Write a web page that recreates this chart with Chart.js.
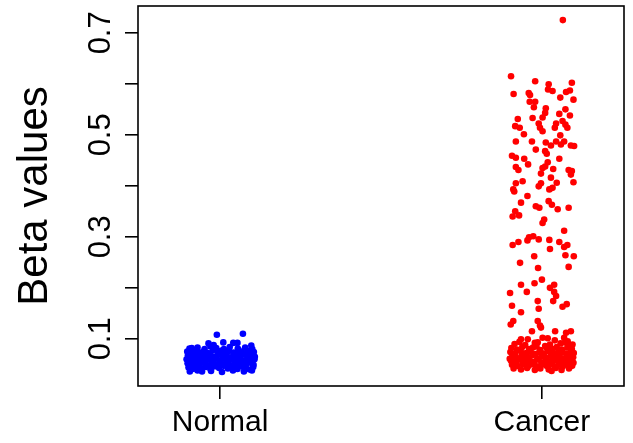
<!DOCTYPE html>
<html lang="en">
<head>
    <meta charset="UTF-8">
    <title>Beta values</title>
    <style>
        body { margin: 0; padding: 0; background: #ffffff; }
        .chart-box { width: 633px; height: 443px; }
    </style>
    <script src="https://cdn.jsdelivr.net/npm/chart.js"></script>
</head>
<body>
    <div class="chart-box">
        <canvas id="stripChart" width="633" height="443"></canvas>
    </div>

    <script>
    // groups on the x axis (position 1 and 2)
    const groups = ["Normal", "Cancer"];
    const yTicks = [0.1, 0.2, 0.3, 0.4, 0.5, 0.6, 0.7];
    const yTickLabels = [0.1, 0.3, 0.5, 0.7];

    // Normal samples: horizontal jitter and beta value
    const normalJitter = [
        0.071, -0.010, 0.010, -0.036, 0.041, 0.054, -0.088, 0.097, -0.020,
        -0.095, -0.070, -0.048, -0.030, -0.012, 0.012, 0.030, 0.055, 0.078, 0.100,
        -0.102, -0.088, -0.075, -0.061, -0.050, -0.038, -0.022, -0.008, 0.005, 0.018, 0.028, 0.042, 0.058, 0.068, 0.082, 0.092, 0.105, -0.030,
        -0.100, -0.090, -0.078, -0.066, -0.055, -0.042, -0.032, -0.018, -0.004, 0.008, 0.020, 0.034, 0.046, 0.060, 0.072, 0.085, 0.097, 0.108, -0.060, 0.052,
        -0.104, -0.092, -0.081, -0.070, -0.058, -0.045, -0.034, -0.024, -0.012, 0.000, 0.014, 0.025, 0.038, 0.050, 0.063, 0.076, 0.088, 0.099, 0.107, 0.031,
        -0.101, -0.089, -0.076, -0.064, -0.052, -0.040, -0.027, -0.015, -0.002, 0.010, 0.022, 0.035, 0.047, 0.058, 0.070, 0.081, 0.094, 0.104, -0.020, 0.064,
        -0.098, -0.085, -0.072, -0.058, -0.044, -0.030, -0.016, -0.003, 0.011, 0.024, 0.039, 0.054, 0.067, 0.080, 0.092, 0.103,
        -0.094, -0.070, -0.056, -0.028, 0.006, 0.040, 0.074, 0.099
    ];
    const normalBeta = [
        0.110, 0.108, 0.093, 0.091, 0.092, 0.092, 0.082, 0.087, 0.088,
        0.081, 0.083, 0.080, 0.085, 0.082, 0.080, 0.084, 0.081, 0.083, 0.080,
        0.075, 0.072, 0.077, 0.073, 0.076, 0.072, 0.078, 0.074, 0.077, 0.072, 0.076, 0.073, 0.078, 0.074, 0.072, 0.077, 0.074, 0.071,
        0.068, 0.065, 0.070, 0.066, 0.069, 0.064, 0.068, 0.065, 0.070, 0.066, 0.069, 0.064, 0.068, 0.065, 0.070, 0.066, 0.069, 0.065, 0.063, 0.071,
        0.060, 0.057, 0.062, 0.058, 0.061, 0.056, 0.060, 0.057, 0.062, 0.058, 0.061, 0.056, 0.060, 0.057, 0.062, 0.058, 0.061, 0.057, 0.060, 0.063,
        0.052, 0.049, 0.054, 0.050, 0.053, 0.048, 0.052, 0.049, 0.054, 0.050, 0.053, 0.048, 0.052, 0.049, 0.054, 0.050, 0.053, 0.049, 0.055, 0.056,
        0.044, 0.041, 0.046, 0.042, 0.045, 0.041, 0.046, 0.043, 0.047, 0.042, 0.045, 0.041, 0.046, 0.043, 0.040, 0.045,
        0.036, 0.038, 0.036, 0.037, 0.035, 0.038, 0.036, 0.038
    ];

    // Cancer samples: horizontal jitter and beta value
    const cancerJitter = [
        0.065, -0.096, -0.021, 0.021, 0.093, 0.019, 0.033, -0.088, -0.041, -0.037,
        0.057, 0.075, 0.087, 0.098, -0.038, -0.021, -0.025, 0.012, 0.010, 0.054,
        0.073, 0.087, -0.029, 0.002, -0.075, -0.010, -0.006, 0.002, 0.044, 0.040,
        0.064, 0.073, 0.079, -0.083, -0.069, -0.056, 0.057, -0.081, -0.031, 0.012,
        0.044, 0.069, 0.028, 0.059, 0.010, 0.015, -0.019, 0.090, 0.100, -0.093,
        -0.081, -0.055, -0.043, 0.054, 0.018, -0.081, -0.073, 0.002, -0.003, 0.010,
        0.035, 0.083, 0.093, 0.090, 0.098, 0.028, 0.046, -0.003, -0.010, -0.060,
        -0.081, -0.089, -0.086, -0.045, 0.023, 0.033, -0.065, 0.021, 0.031, -0.019,
        -0.008, 0.049, 0.083, -0.083, -0.091, -0.071, 0.007, 0.002, 0.069, -0.091,
        -0.073, -0.045, -0.040, -0.027, -0.010, 0.023, 0.025, 0.054, 0.069, 0.079,
        0.073, 0.099, -0.024, -0.068, -0.012, 0.083, 0.000, -0.065, -0.023, 0.025,
        0.038, -0.099, -0.047, 0.038, 0.044, -0.013, 0.035, 0.064, 0.077, -0.093,
        -0.010, -0.065, -0.089, -0.097, -0.013, -0.006, -0.031, 0.041, 0.075, -0.003,
        0.090, -0.065, -0.044, -0.022, 0.002, 0.018, 0.040, 0.069, 0.080,
        -0.085, -0.052, -0.013, 0.025, 0.058, 0.086, -0.070, 0.010, 0.072, 0.095,
        -0.095, -0.078, -0.061, -0.040, -0.028, -0.005, 0.015, 0.033, 0.046, 0.062, 0.079, 0.093, -0.017, 0.052,
        -0.098, -0.083, -0.066, -0.049, -0.035, -0.021, -0.008, 0.006, 0.020, 0.036, 0.049, 0.064, 0.077, 0.090, 0.099, -0.057,
        -0.092, -0.079, -0.063, -0.044, -0.030, -0.014, 0.000, 0.012, 0.027, 0.041, 0.055, 0.069, 0.083, 0.097, -0.100, -0.052, 0.034, 0.088,
        -0.096, -0.081, -0.068, -0.055, -0.038, -0.024, -0.010, 0.004, 0.018, 0.031, 0.045, 0.060, 0.074, 0.087, 0.098, -0.046, 0.011, 0.067,
        -0.093, -0.076, -0.060, -0.041, -0.027, -0.016, -0.002, 0.014, 0.024, 0.039, 0.052, 0.065, 0.081, 0.094, -0.086, 0.058,
        -0.088, -0.065, -0.046, -0.022, -0.005, 0.021, 0.043, 0.061, 0.084, 0.030
    ];
    const cancerBeta = [
        0.725, 0.615, 0.605, 0.599, 0.602, 0.589, 0.586, 0.580, 0.582, 0.578,
        0.573, 0.584, 0.587, 0.569, 0.565, 0.565, 0.554, 0.552, 0.543, 0.541,
        0.550, 0.538, 0.533, 0.534, 0.531, 0.522, 0.514, 0.507, 0.522, 0.514,
        0.527, 0.520, 0.514, 0.517, 0.514, 0.501, 0.499, 0.487, 0.487, 0.485,
        0.487, 0.487, 0.479, 0.481, 0.468, 0.463, 0.471, 0.479, 0.478, 0.459,
        0.455, 0.453, 0.442, 0.453, 0.446, 0.437, 0.431, 0.435, 0.424, 0.438,
        0.433, 0.431, 0.429, 0.422, 0.407, 0.416, 0.406, 0.405, 0.399, 0.409,
        0.405, 0.393, 0.389, 0.380, 0.393, 0.396, 0.367, 0.370, 0.363, 0.360,
        0.357, 0.354, 0.357, 0.350, 0.340, 0.342, 0.334, 0.327, 0.312, 0.284,
        0.290, 0.293, 0.299, 0.301, 0.295, 0.294, 0.276, 0.290, 0.280, 0.284,
        0.264, 0.262, 0.262, 0.249, 0.239, 0.241, 0.216, 0.206, 0.209, 0.200,
        0.206, 0.190, 0.192, 0.192, 0.184, 0.174, 0.174, 0.163, 0.168, 0.165,
        0.159, 0.152, 0.135, 0.128, 0.135, 0.126, 0.115, 0.115, 0.112, 0.122,
        0.115, 0.099, 0.099, 0.092, 0.102, 0.101, 0.097, 0.102, 0.095,
        0.090, 0.088, 0.093, 0.089, 0.091, 0.087, 0.094, 0.086, 0.093, 0.089,
        0.082, 0.079, 0.084, 0.080, 0.083, 0.078, 0.082, 0.080, 0.084, 0.079, 0.083, 0.080, 0.085, 0.077,
        0.074, 0.071, 0.076, 0.072, 0.075, 0.070, 0.074, 0.071, 0.076, 0.072, 0.070, 0.074, 0.071, 0.075, 0.072, 0.069,
        0.066, 0.063, 0.067, 0.064, 0.068, 0.062, 0.066, 0.063, 0.068, 0.064, 0.066, 0.062, 0.067, 0.064, 0.061, 0.061, 0.060, 0.060,
        0.057, 0.055, 0.059, 0.054, 0.058, 0.055, 0.059, 0.054, 0.057, 0.054, 0.058, 0.055, 0.059, 0.056, 0.053, 0.052, 0.052, 0.051,
        0.049, 0.047, 0.050, 0.047, 0.050, 0.046, 0.049, 0.047, 0.050, 0.046, 0.049, 0.046, 0.050, 0.047, 0.053, 0.053,
        0.042, 0.040, 0.043, 0.039, 0.042, 0.040, 0.043, 0.039, 0.042, 0.037
    ];

    const toPoints = (pos, jitter, beta) => beta.map((b, i) => ({ x: pos + jitter[i], y: b }));

    // draws the box around the plot, the rotated y labels and the y title
    const framePlugin = {
        id: "frame",
        afterDraw(chart) {
            const ctx = chart.ctx;
            const area = chart.chartArea;
            const yScale = chart.scales.y;
            ctx.save();
            ctx.strokeStyle = "#000";
            ctx.lineWidth = 1.6;
            ctx.strokeRect(area.left, area.top, area.right - area.left, area.bottom - area.top);

            ctx.fillStyle = "#000";
            ctx.font = "31px 'Liberation Sans', Arial, sans-serif";
            ctx.textAlign = "center";
            ctx.textBaseline = "alphabetic";
            yTickLabels.forEach(v => {
                const py = yScale.getPixelForValue(v);
                ctx.save();
                ctx.translate(110, py);
                ctx.rotate(-Math.PI / 2);
                ctx.fillText(v.toFixed(1), 0, 0);
                ctx.restore();
            });

            ctx.font = "42px 'Liberation Sans', Arial, sans-serif";
            ctx.translate(47, (area.top + area.bottom) / 2);
            ctx.rotate(-Math.PI / 2);
            ctx.fillText("Beta values", 0, 0);
            ctx.restore();
        }
    };

    new Chart(document.getElementById("stripChart"), {
        type: "scatter",
        data: {
            datasets: [
                {
                    label: groups[0],
                    data: toPoints(1, normalJitter, normalBeta),
                    backgroundColor: "#0000ff",
                    borderWidth: 0,
                    pointRadius: 3.3
                },
                {
                    label: groups[1],
                    data: toPoints(2, cancerJitter, cancerBeta),
                    backgroundColor: "#ff0000",
                    borderWidth: 0,
                    pointRadius: 3.3
                }
            ]
        },
        options: {
            responsive: false,
            animation: false,
            layout: { padding: { top: 6, right: 9, left: 0, bottom: 0 } },
            plugins: {
                legend: { display: false },
                tooltip: { enabled: false }
            },
            scales: {
                x: {
                    type: "linear",
                    min: 0.745,
                    max: 2.255,
                    afterBuildTicks: s => { s.ticks = [1, 2].map(v => ({ value: v })); },
                    afterFit: s => { s.height = 57; },
                    border: { display: false },
                    grid: {
                        drawOnChartArea: false,
                        drawTicks: true,
                        tickLength: 13,
                        color: "#000",
                        lineWidth: 1.6
                    },
                    ticks: {
                        padding: 6,
                        color: "#000",
                        font: { family: "'Liberation Sans', Arial, sans-serif", size: 30 },
                        maxRotation: 0,
                        callback: v => groups[v - 1]
                    }
                },
                y: {
                    min: 0.0075,
                    max: 0.7526,
                    afterBuildTicks: s => { s.ticks = yTicks.map(v => ({ value: v })); },
                    afterFit: s => { s.width = 138; },
                    border: { display: false },
                    grid: {
                        drawOnChartArea: false,
                        drawTicks: true,
                        tickLength: 13,
                        color: "#000",
                        lineWidth: 1.6
                    },
                    ticks: { display: false }
                }
            }
        },
        plugins: [framePlugin]
    });
    </script>
</body>
</html>
